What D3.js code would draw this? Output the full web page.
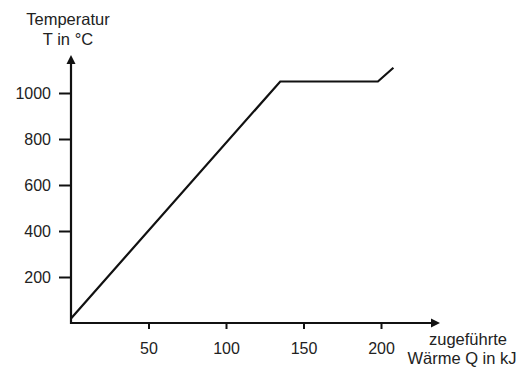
<!DOCTYPE html>
<html>
<head>
<meta charset="utf-8">
<script src="https://cdn.jsdelivr.net/npm/d3@7"></script>
<style>
  body { margin: 0; background: #fff; }
  text { font-family: "Liberation Sans", Arial, sans-serif; fill: #222; }
</style>
</head>
<body>
<svg id="chart" width="528" height="369"></svg>
<script>
// zugeführte Wärme Q in kJ / Temperatur T in °C
const waerme = [0, 135, 198, 208];
const temperatur = [20, 1050, 1050, 1110];
const xTicks = [50, 100, 150, 200];
const yTicks = [200, 400, 600, 800, 1000];

const svg = d3.select('#chart');
const x = d3.scaleLinear().domain([0, 200]).range([71, 381]);
const y = d3.scaleLinear().domain([0, 1000]).range([323, 93]);

/*x-Achse*/
const gx = svg.append('g').attr('transform', `translate(0,${y(0)})`)
  .call(d3.axisBottom(x).tickValues(xTicks).tickFormat(d3.format('d'))
    .tickSizeInner(6).tickSizeOuter(0).tickPadding(14));
gx.select('.domain').remove();
gx.selectAll('line').attr('stroke', '#111').attr('stroke-width', 2);
gx.selectAll('text').style('font-size', '16px').attr('fill', '#222');

/*y-Achse*/
const gy = svg.append('g').attr('transform', `translate(${x(0)},0)`)
  .call(d3.axisLeft(y).tickValues(yTicks).tickFormat(d3.format('d'))
    .tickSizeInner(12).tickSizeOuter(0).tickPadding(8));
gy.select('.domain').remove();
gy.selectAll('line').attr('stroke', '#111').attr('stroke-width', 2);
gy.selectAll('text').style('font-size', '16px').attr('fill', '#222');

/*Achsenlinien mit Pfeil*/
svg.append('line').attr('x1', x(0) - 1).attr('y1', y(0)).attr('x2', 434).attr('y2', y(0))
  .attr('stroke', '#111').attr('stroke-width', 2.2);
svg.append('path').attr('d', `M440,${y(0)} L431,${y(0) - 4.5} L431,${y(0) + 4.5} Z`).attr('fill', '#111');
svg.append('line').attr('x1', x(0)).attr('y1', y(0) + 1).attr('x2', x(0)).attr('y2', 61)
  .attr('stroke', '#111').attr('stroke-width', 2.2);
svg.append('path').attr('d', `M${x(0)},55 L${x(0) - 4.5},64 L${x(0) + 4.5},64 Z`).attr('fill', '#111');

/*Kurve*/
const line = d3.line().x(d => x(d[0])).y(d => y(d[1]));
svg.append('path')
  .datum(waerme.map((q, i) => [q, temperatur[i]]))
  .attr('d', line)
  .attr('fill', 'none')
  .attr('stroke', '#111')
  .attr('stroke-width', 2.2);

/*Beschriftung*/
svg.append('text').attr('x', 68).attr('y', 25).attr('text-anchor', 'middle')
  .style('font-size', '16.5px').text('Temperatur');
svg.append('text').attr('x', 68).attr('y', 45).attr('text-anchor', 'middle')
  .style('font-size', '16.5px').text('T in °C');
svg.append('text').attr('x', 468).attr('y', 345).attr('text-anchor', 'middle')
  .style('font-size', '16.5px').text('zugeführte');
svg.append('text').attr('x', 462).attr('y', 364).attr('text-anchor', 'middle')
  .style('font-size', '16.5px').text('Wärme Q in kJ');
</script>
</body>
</html>
